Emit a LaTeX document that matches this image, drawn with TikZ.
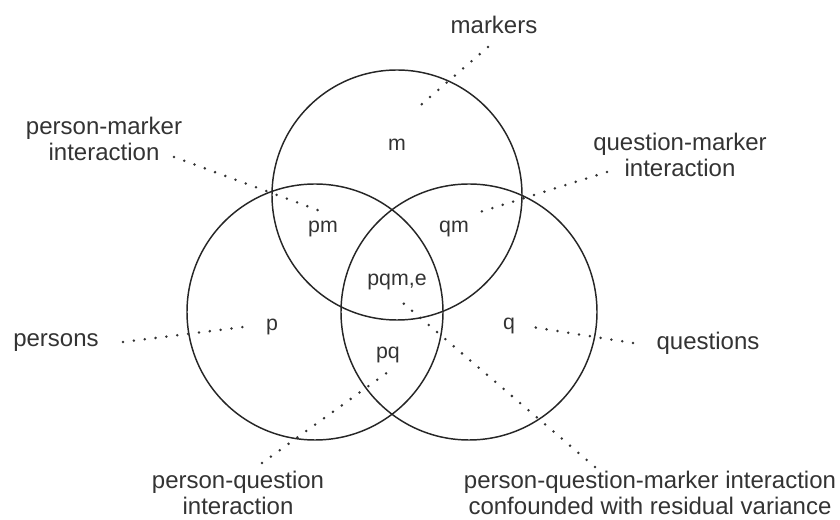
\documentclass[tikz,border=0pt]{standalone}
\usepackage{fontspec}
\setmainfont{Liberation Sans}
\usetikzlibrary{positioning}

\begin{document}
\begin{tikzpicture}[x=0.75pt,y=-0.75pt,
		set/.style={draw=black!85,line width=1.1pt},
		part/.style={font=\fontsize{16}{19}\selectfont,text=black!80,inner sep=0pt},
		lbl/.style={font=\fontsize{18}{20}\selectfont,text=black!80,align=center,inner sep=0pt},
		dotline/.style={draw=black!80,line width=2.1pt,line cap=round,dash pattern=on 0pt off 8.2pt}]
				\useasboundingbox (0,0) rectangle (840,520);
				% the three sets
				\draw[set] (397,195) circle (125);
				\draw[set] (315,312) circle (128);
				\draw[set] (469,312) circle (128);
				% parts of the diagram
				\node[part] (m) at (397,145) {m};
				\node[part] (pm) at (323,229) {pm};
				\node[part] (qm) at (454,229) {qm};
				\node[part] (pqm) at (397,282) {pqm,e};
				\node[part] (p) at (272,327) {p};
				\node[part] (q) at (509,326) {q};
				\node[part] (pq) at (388,355) {pq};
				% labels
				\node[lbl] (markers) at (494,25) {markers};
				\node[lbl] (pmlbl) at (104,139) {person-marker\\interaction};
				\node[lbl] (qmlbl) at (680,155) {question-marker\\interaction};
				\node[lbl] (persons) at (56,343) {persons};
				\node[lbl] (questions) at (708,343) {questions};
				\node[lbl] (pqlbl) at (238,493) {person-question\\interaction};
				\node[lbl] (pqmlbl) at (650,493) {person-question-marker interaction\\confounded with residual variance};
				% ends of the dotted lines
				\coordinate (mA) at (488,47);		\coordinate (mB) at (415,110);
				\coordinate (pmA) at (174,157);		\coordinate (pmB) at (323,212);
				\coordinate (qmA) at (607,172);		\coordinate (qmB) at (480,212);
				\coordinate (pA) at (123,342);		\coordinate (pB) at (243,327);
				\coordinate (qA) at (633,343);		\coordinate (qB) at (526,326);
				\coordinate (pqA) at (262,463);		\coordinate (pqB) at (388,372);
				\coordinate (pqmA) at (595,467);	\coordinate (pqmB) at (403,303);
				\draw[dotline] (mA) -- (mB);
				\draw[dotline] (pmA) -- (pmB);
				\draw[dotline] (qmA) -- (qmB);
				\draw[dotline] (pA) -- (pB);
				\draw[dotline] (qA) -- (qB);
				\draw[dotline] (pqA) -- (pqB);
				\draw[dotline] (pqmA) -- (pqmB);
\end{tikzpicture}
\end{document}
